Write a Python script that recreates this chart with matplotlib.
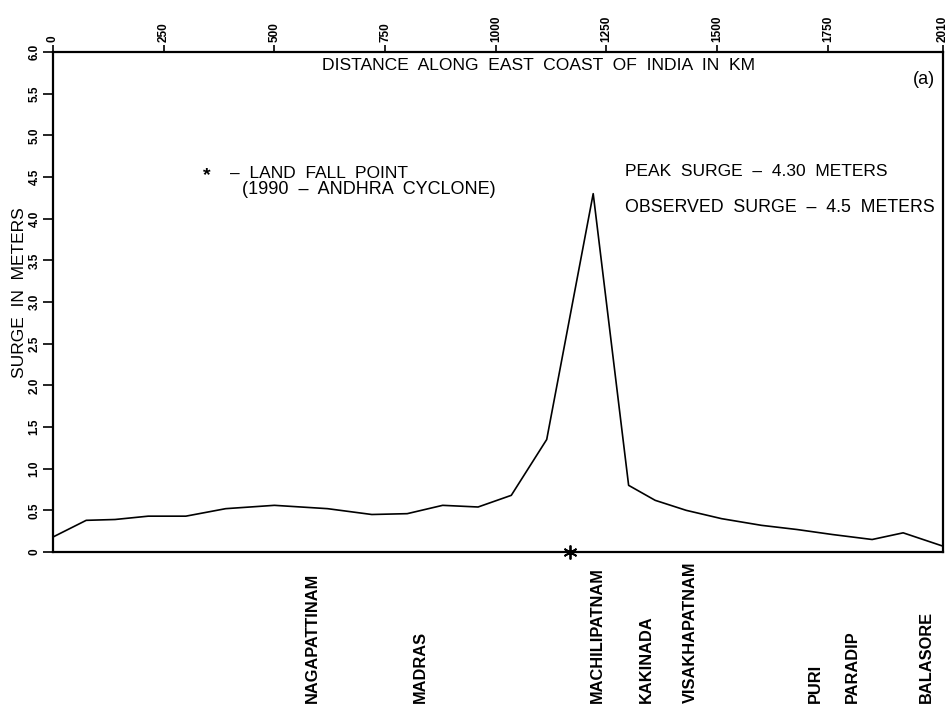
import numpy as np
import matplotlib
matplotlib.use('Agg')
import matplotlib.pyplot as plt
import matplotlib.transforms as mtransforms

plt.rcParams['font.family'] = ['Liberation Sans', 'DejaVu Sans']

# surge profile along the coast (km, metres)
distance_km = [0, 75, 140, 215, 300, 390, 500, 620, 720, 800, 880, 960,
               1035, 1115, 1220, 1300, 1360, 1430, 1510, 1600, 1680, 1760,
               1850, 1920, 2010]
surge_m = [0.18, 0.38, 0.39, 0.43, 0.43, 0.52, 0.56, 0.52, 0.45, 0.46, 0.56,
           0.54, 0.68, 1.35, 4.30, 0.80, 0.62, 0.50, 0.40, 0.32, 0.27, 0.21,
           0.15, 0.23, 0.07]

landfall_km = 1168
landfall_m = 0.0

places = ['NAGAPATTINAM', 'MADRAS', 'MACHILIPATNAM', 'KAKINADA',
          'VISAKHAPATNAM', 'PURI', 'PARADIP', 'BALASORE']
places_km = [585, 829, 1229, 1341, 1439, 1721, 1805, 1972]

xticks = [0, 250, 500, 750, 1000, 1250, 1500, 1750, 2010]
yticks = np.arange(0, 6.01, 0.5)
ytick_labels = ['0'] + ['%.1f' % v for v in yticks[1:]]

fig = plt.figure(figsize=(9.5, 7.06), dpi=100)
ax = fig.add_axes([53/950, 1 - 552/706, 890/950, 500/706])

ax.plot(distance_km, surge_m, color='black', lw=1.2)
ax.plot([landfall_km], [landfall_m], marker=(6, 2, 0), color='black',
        ms=10, mew=1.3, clip_on=False)

ax.set_xlim(0, 2010)
ax.set_ylim(0, 6.0)

for s in ax.spines.values():
    s.set_linewidth(1.6)

ax.xaxis.tick_top()
ax.set_xticks(xticks)
ax.set_xticklabels([str(v) for v in xticks], rotation=90, fontsize=8.5,
                   fontweight='bold')
ax.tick_params(axis='x', direction='out', length=5, width=1.2, pad=2)

ax.set_yticks(yticks)
ax.set_yticklabels(ytick_labels, rotation=90, va='center', fontsize=8.5,
                   fontweight='bold')
ax.tick_params(axis='y', direction='out', length=7, width=1.2, pad=2)

ax.set_ylabel('SURGE  IN  METERS', fontsize=12.5)
ax.yaxis.set_label_coords(-0.029, 0.518)

ax.text(0.545, 0.974, 'DISTANCE  ALONG  EAST  COAST  OF  INDIA  IN  KM',
        transform=ax.transAxes, ha='center', va='center', fontsize=12.6)
ax.text(0.979, 0.944, '(a)', transform=ax.transAxes, ha='center',
        va='center', fontsize=13)

ax.text(0.173, 0.752, '*', transform=ax.transAxes, ha='center',
        va='center', fontsize=14, fontweight='bold')
ax.text(0.199, 0.758, '–  LAND  FALL  POINT', transform=ax.transAxes,
        ha='left', va='center', fontsize=12.5)
ax.text(0.212, 0.724, '(1990  –  ANDHRA  CYCLONE)', transform=ax.transAxes,
        ha='left', va='center', fontsize=13)

ax.text(0.643, 0.760, 'PEAK  SURGE  –  4.30  METERS', transform=ax.transAxes,
        ha='left', va='center', fontsize=12.5)
ax.text(0.643, 0.688, 'OBSERVED  SURGE  –  4.5  METERS',
        transform=ax.transAxes, ha='left', va='center', fontsize=12.8)

trans = mtransforms.blended_transform_factory(ax.transData, ax.transAxes)
for name, km in zip(places, places_km):
    ax.text(km, -0.302, name, transform=trans, rotation=90, ha='center',
            va='bottom', fontsize=11.8, fontweight='bold')

fig.savefig('out.png', dpi=100)
